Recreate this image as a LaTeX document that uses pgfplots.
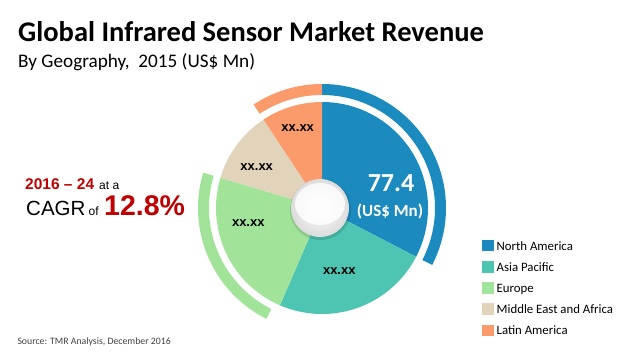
\documentclass[border=0pt]{standalone}
\usepackage{pgfplots}
\pgfplotsset{compat=1.18}
\usepackage{fontspec}
\setmainfont{Carlito}
\newfontfamily\arialfont{Liberation Sans}
\definecolor{cNA}{HTML}{1A8ABF}
\definecolor{cAP}{HTML}{4EC5B3}
\definecolor{cEU}{HTML}{A2E39A}
\definecolor{cME}{HTML}{E2D3BB}
\definecolor{cLA}{HTML}{FB9A6A}
\definecolor{cRed}{HTML}{C00000}
\newcommand\px[1]{\fontsize{#1}{#1}\selectfont}
\newcommand\cx{322}
\newcommand\cy{151}
\newcommand\pr{106}
% start (percent), value (percent), colour
\newcommand\slice[3]{%
  \addplot[fill=#3, draw=none, domain={90-3.6*(#1+#2)}:{90-3.6*(#1)}, samples=90, variable=\t]
    ({\cx+\pr*cos(\t)},{\cy+\pr*sin(\t)}) -- (axis cs:\cx,\cy) -- cycle;}
\newcommand\arcband[3]{%
  \addplot[draw=#3, line width=11pt, domain={90-3.6*(#2)}:{90-3.6*(#1)}, samples=90, variable=\t, forget plot]
    ({\cx+118.5*cos(\t)},{\cy+118.5*sin(\t)});}
\begin{document}
\begin{tikzpicture}
\begin{axis}[
  width=620pt, height=359pt, scale only axis,
  xmin=0, xmax=620, ymin=0, ymax=359,
  axis lines=none, ticks=none, clip=false, no markers,
  legend style={at={(rel axis cs:0.7774,0.3323)}, anchor=north west, draw=none, fill=none,
    inner sep=0pt, font=\px{12.8}, row sep=8.6pt, nodes={inner sep=1pt}},
  legend cell align=left,
  legend image code/.code={\fill[#1] (0pt,-5pt) rectangle (11.5pt,6.5pt); \path (13.5pt,0pt);},
]
\path (rel axis cs:0,0) rectangle (rel axis cs:1,1);
% slices: North America, Asia Pacific, Europe, Middle East and Africa, Latin America
\slice{0}{32.6}{cNA}
\addlegendentry{North America}
\slice{32.6}{23.9}{cAP}
\addlegendentry{Asia Pacific}
\slice{56.5}{23.1}{cEU}
\addlegendentry{Europe}
\slice{79.6}{11.1}{cME}
\addlegendentry{Middle East and Africa}
\slice{90.7}{9.3}{cLA}
\addlegendentry{Latin America}
% outer arcs
\arcband{0}{32.6}{cNA}
\arcband{90.7}{100}{cLA}
\arcband{57.4}{79.6}{cEU}
% centre hole
\fill[black, opacity=0.12] (axis cs:320.5,149.5) circle[radius=30.5pt];
\shade[inner color=white, outer color=black!14] (axis cs:320,151) circle[radius=29pt];
\fill[white, opacity=0.8] (axis cs:320,155) ellipse[x radius=25pt, y radius=21pt];
% texts
\node[anchor=base west, inner sep=0] at (axis cs:18,317.3) {\px{28.5}\bfseries Global Infrared Sensor Market Revenue};
\node[anchor=base west, inner sep=0] at (axis cs:18,291) {\px{19.2}By Geography,\ \ 2015 (US\$ Mn)};
\node[anchor=base west, inner sep=0, text=cRed] at (axis cs:25,169.7) {\arialfont\bfseries\px{15.5}2016 – 24};
\node[anchor=base west, inner sep=0] at (axis cs:99,169.7) {\arialfont\px{12}at a};
\node[anchor=base west, inner sep=0] at (axis cs:26,144) {\arialfont\px{20.5}CAGR};
\node[anchor=base west, inner sep=0] at (axis cs:88.5,144) {\arialfont\px{12}of};
\node[anchor=base west, inner sep=0, text=cRed] at (axis cs:104,144) {\arialfont\bfseries\px{28.5}12.8\%};
\node[anchor=base, inner sep=0, text=white] at (axis cs:391,167.3) {\px{26}\bfseries 77.4};
\node[anchor=base, inner sep=0, text=white] at (axis cs:390,142.3) {\px{17}\bfseries (US\$ Mn)};
\node[inner sep=0] at (axis cs:297.7,230.7) {\arialfont\bfseries\px{13}xx.xx};
\node[inner sep=0] at (axis cs:256.7,192.3) {\arialfont\bfseries\px{13}xx.xx};
\node[inner sep=0] at (axis cs:248.3,135.7) {\arialfont\bfseries\px{13}xx.xx};
\node[inner sep=0] at (axis cs:339.3,88.3) {\arialfont\bfseries\px{13}xx.xx};
\node[anchor=base west, inner sep=0, text=black!75] at (axis cs:17.3,14.7) {\px{9.8}Source: TMR Analysis, December 2016};
\end{axis}
\end{tikzpicture}
\end{document}
